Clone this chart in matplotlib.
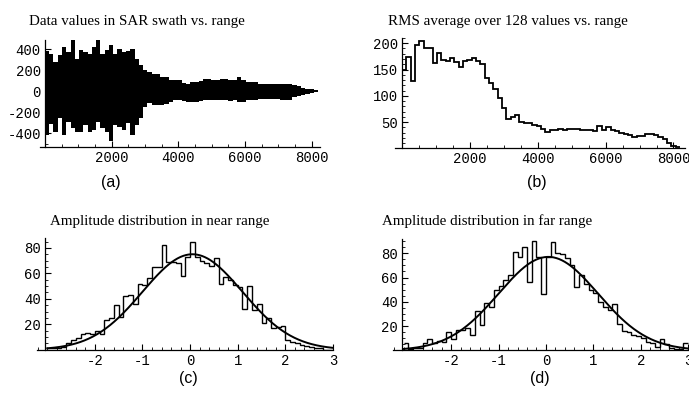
import numpy as np
import matplotlib
matplotlib.use("Agg")
import matplotlib.pyplot as plt
from matplotlib.ticker import MultipleLocator

plt.rcParams["axes.unicode_minus"] = False

# (a) envelope of the raw SAR swath, per block of 128 samples
block = 128
sar_upper = [380, 358, 280, 343, 422, 374, 486, 311, 390, 374,
             358, 422, 486, 358, 390, 440, 358, 406, 374, 380,
             406, 311, 250, 200, 184, 168, 168, 140, 136, 110,
             105, 105, 80, 74, 86, 86, 100, 117, 117, 105,
             105, 117, 117, 105, 105, 136, 105, 90, 86, 86,
             74, 74, 74, 74, 74, 74, 74, 65, 57, 50,
             35, 25, 18, 10]
sar_lower = [-420, -310, -385, -260, -420, -290, -355, -385, -390, -325,
             -385, -370, -290, -355, -385, -480, -325, -340, -370, -300,
             -420, -325, -260, -150, -117, -133, -133, -130, -125, -100,
             -86, -86, -95, -102, -102, -100, -95, -86, -86, -86,
             -86, -86, -86, -90, -86, -102, -102, -86, -86, -80,
             -70, -70, -70, -70, -75, -80, -86, -86, -54, -50,
             -35, -30, -15, -5]

# (b) RMS over 128 values
rms_values = [150, 174, 128, 196, 204, 190, 191, 162, 181, 168,
              166, 172, 165, 155, 166, 168, 171, 166, 161, 134,
              124, 112, 96, 76, 56, 60, 63, 51, 48, 48,
              44, 42, 36, 31, 34, 35, 36, 35, 36, 37,
              36, 35, 34, 34, 33, 43, 35, 40, 34, 32,
              30, 28, 25, 22, 23, 24, 27, 27, 26, 22,
              17, 10, 4, 3]

# (c)/(d) amplitude histograms, bins of 0.1 from -3 to 3
bin_edges = np.round(np.arange(-3.0, 3.001, 0.1), 2)
near_counts = [1, 1, 1, 2, 5, 8, 9, 12, 13, 12,
               15, 12, 23, 25, 35, 26, 42, 43, 36, 52,
               51, 56, 65, 65, 82, 69, 69, 68, 58, 73,
               85, 73, 70, 68, 66, 72, 52, 57, 55, 51,
               49, 32, 50, 31, 36, 21, 25, 17, 18, 19,
               8, 6, 5, 4, 3, 2, 1, 1, 0, 0]
far_counts = [6, 1, 2, 2, 6, 9, 6, 8, 7, 15,
              9, 17, 17, 18, 13, 32, 21, 39, 36, 50,
              53, 58, 62, 81, 77, 85, 56, 90, 77, 46,
              77, 89, 80, 79, 76, 70, 52, 62, 55, 50,
              47, 40, 36, 33, 38, 22, 16, 15, 13, 12,
              10, 7, 6, 3, 9, 5, 2, 1, 1, 6]

# fitted normal curves: peak, mean, sigma
near_fit = (75, 0.05, 1.05)
far_fit = (77, 0.05, 1.05)

TICK_FONT = {"family": "Liberation Mono", "size": 10}
TITLE_FONT = {"family": "Liberation Serif", "size": 10.8}
LABEL_FONT = {"family": "Liberation Sans", "size": 11.5}


def _style(ax, x0, major_x, minor_x, major_y, minor_y):
    ax.spines["top"].set_visible(False)
    ax.spines["right"].set_visible(False)
    ax.spines["left"].set_position(("data", x0))
    for s in ("left", "bottom"):
        ax.spines[s].set_linewidth(0.9)
    ax.xaxis.set_minor_locator(MultipleLocator(minor_x))
    ax.yaxis.set_minor_locator(MultipleLocator(minor_y))
    ax.tick_params(which="major", direction="in", length=4, width=0.8, pad=3)
    ax.tick_params(which="minor", direction="in", length=2, width=0.6)
    ax.set_xticks(major_x)
    ax.set_yticks(major_y)
    for lab in ax.get_xticklabels() + ax.get_yticklabels():
        lab.set_fontfamily(TICK_FONT["family"])
        lab.set_fontsize(TICK_FONT["size"])


fig = plt.figure(figsize=(6.89, 3.94), dpi=100, facecolor="white")

# (a)
ax = fig.add_axes([0.058, 0.6269, 0.4064, 0.2716])
edges = np.arange(len(sar_upper) + 1) * block
ax.stairs(sar_upper, edges, baseline=sar_lower, fill=True, color="black")
ax.set_xlim(-150, 8250)
ax.set_ylim(-533, 490)
_style(ax, 0, [2000, 4000, 6000, 8000], 500, [-400, -200, 0, 200, 400], 100)

# (b)
ax = fig.add_axes([0.5733, 0.6236, 0.4209, 0.28])
edges = np.arange(len(rms_values) + 1) * block
ax.stairs(rms_values, edges, baseline=None, color="black", linewidth=1.3)
ax.set_xlim(-210, 8340)
ax.set_ylim(0, 210)
_style(ax, 0, [2000, 4000, 6000, 8000], 500, [50, 100, 150, 200], 10)

# (c) and (d)
xs = np.linspace(-3, 3, 400)
for rect, counts, fit, xlim, ylim in [
    ([0.0533, 0.1124, 0.43, 0.2843], near_counts, near_fit, (-3.22, 3.0), (0, 88)),
    ([0.5708, 0.1109, 0.4292, 0.2833], far_counts, far_fit, (-3.22, 3.017), (0, 92)),
]:
    ax = fig.add_axes(rect)
    ax.stairs(counts, bin_edges, baseline=None, color="black", linewidth=1.0)
    peak, mu, sig = fit
    ax.plot(xs, peak * np.exp(-(xs - mu) ** 2 / (2 * sig ** 2)), color="black", linewidth=1.4)
    ax.set_xlim(*xlim)
    ax.set_ylim(*ylim)
    _style(ax, -3.04, [-2, -1, 0, 1, 2, 3], 0.2, [20, 40, 60, 80], 5)

fig.text(0.042, 0.9467, "Data values in SAR swath vs. range", va="center", ha="left", **TITLE_FONT)
fig.text(0.5631, 0.9467, "RMS average over 128 values vs. range", va="center", ha="left", **TITLE_FONT)
fig.text(0.0726, 0.439, "Amplitude distribution in near range", va="center", ha="left", **TITLE_FONT)
fig.text(0.5544, 0.439, "Amplitude distribution in far range", va="center", ha="left", **TITLE_FONT)

fig.text(0.161, 0.538, "(a)", ha="center", va="center", **LABEL_FONT)
fig.text(0.779, 0.538, "(b)", ha="center", va="center", **LABEL_FONT)
fig.text(0.274, 0.040, "(c)", ha="center", va="center", **LABEL_FONT)
fig.text(0.7837, 0.040, "(d)", ha="center", va="center", **LABEL_FONT)

fig.savefig("out.png", dpi=100, facecolor="white")
